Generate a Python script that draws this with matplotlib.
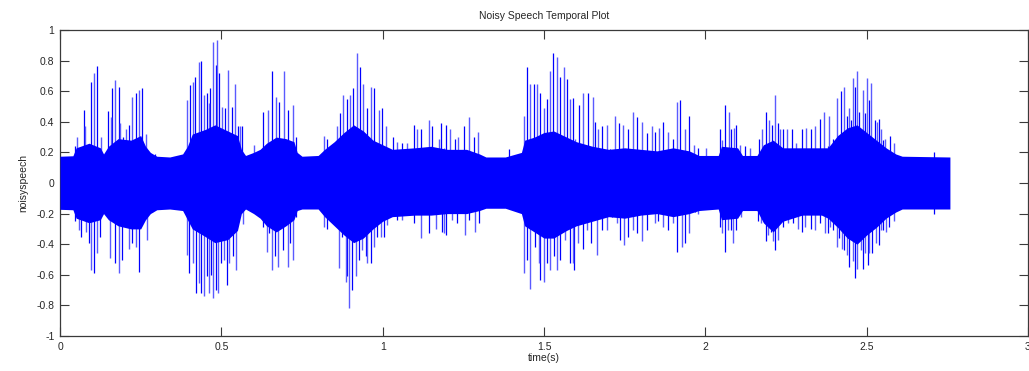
import matplotlib
matplotlib.use("Agg")
import matplotlib.pyplot as plt
from matplotlib.ticker import FuncFormatter

# dense body of the waveform (time, upper edge, lower edge)
body_t = [0.00, 0.04, 0.05, 0.09, 0.125, 0.135, 0.15, 0.18, 0.22, 0.25, 0.265, 0.28, 0.30,
          0.34, 0.38, 0.395, 0.41, 0.45, 0.48, 0.52, 0.55, 0.562, 0.575, 0.60, 0.62, 0.64,
          0.67, 0.70, 0.725, 0.735, 0.75, 0.80, 0.82, 0.85, 0.88, 0.91, 0.94, 0.97, 1.00,
          1.03, 1.10, 1.15, 1.20, 1.26, 1.30, 1.32, 1.38, 1.43, 1.44, 1.47, 1.50, 1.53,
          1.57, 1.60, 1.65, 1.70, 1.75, 1.80, 1.85, 1.90, 1.95, 1.98, 2.04, 2.05, 2.10,
          2.115, 2.16, 2.18, 2.21, 2.24, 2.30, 2.36, 2.38, 2.41, 2.44, 2.47, 2.50, 2.53,
          2.56, 2.59, 2.61, 2.758]
body_hi = [0.175, 0.178, 0.23, 0.26, 0.23, 0.19, 0.24, 0.29, 0.28, 0.31, 0.24, 0.20, 0.175,
           0.17, 0.19, 0.24, 0.32, 0.35, 0.38, 0.34, 0.31, 0.22, 0.18, 0.20, 0.22, 0.26,
           0.30, 0.29, 0.27, 0.20, 0.175, 0.18, 0.22, 0.27, 0.33, 0.38, 0.34, 0.28, 0.25,
           0.22, 0.23, 0.24, 0.22, 0.22, 0.19, 0.17, 0.17, 0.20, 0.28, 0.30, 0.33, 0.34,
           0.30, 0.27, 0.24, 0.22, 0.23, 0.22, 0.21, 0.23, 0.21, 0.18, 0.18, 0.24, 0.23,
           0.18, 0.18, 0.25, 0.28, 0.23, 0.23, 0.23, 0.23, 0.31, 0.36, 0.38, 0.33, 0.28,
           0.23, 0.19, 0.175, 0.17]
body_lo = [-0.172, -0.175, -0.23, -0.26, -0.24, -0.20, -0.24, -0.28, -0.30, -0.30, -0.24, -0.20, -0.175,
           -0.17, -0.18, -0.24, -0.30, -0.35, -0.39, -0.37, -0.31, -0.20, -0.17, -0.20, -0.23, -0.28,
           -0.32, -0.28, -0.24, -0.18, -0.17, -0.17, -0.22, -0.28, -0.34, -0.39, -0.36, -0.30, -0.25,
           -0.22, -0.21, -0.21, -0.20, -0.20, -0.18, -0.165, -0.165, -0.20, -0.28, -0.32, -0.36, -0.36,
           -0.31, -0.28, -0.25, -0.22, -0.23, -0.21, -0.20, -0.22, -0.20, -0.18, -0.17, -0.24, -0.23,
           -0.18, -0.18, -0.26, -0.32, -0.25, -0.21, -0.21, -0.23, -0.29, -0.36, -0.40, -0.34, -0.29,
           -0.23, -0.19, -0.17, -0.17]

# positive peaks
pos_t = [0.046, 0.054, 0.074, 0.079, 0.097, 0.105, 0.116, 0.126, 0.149, 0.157, 0.161, 0.169,
         0.182, 0.186, 0.194, 0.203, 0.215, 0.223, 0.234, 0.244, 0.254, 0.267, 0.293,
         0.395, 0.403, 0.411, 0.419, 0.430, 0.437, 0.447, 0.455, 0.461, 0.465, 0.473, 0.4835,
         0.4855, 0.494, 0.502, 0.512, 0.520, 0.533, 0.543, 0.551, 0.558, 0.564,
         0.602, 0.628, 0.644, 0.657, 0.669, 0.680, 0.695, 0.706, 0.721, 0.731,
         0.818, 0.8285, 0.857, 0.868, 0.878, 0.888, 0.899, 0.909, 0.919, 0.930, 0.940, 0.9525,
         0.963, 0.973, 0.989, 0.999, 1.009, 1.033, 1.045, 1.061, 1.076, 1.097, 1.107, 1.118,
         1.144, 1.154, 1.175, 1.182,
         1.189, 1.196, 1.210, 1.223, 1.2335, 1.251, 1.2665, 1.282, 1.295, 1.39, 1.437, 1.447,
         1.458, 1.468, 1.478, 1.489, 1.499, 1.509, 1.520, 1.527, 1.540, 1.551, 1.561, 1.571, 1.582,
         1.5885, 1.596, 1.6095, 1.622, 1.637, 1.651, 1.658, 1.668, 1.679, 1.694, 1.7045, 1.72,
         1.7335, 1.746, 1.761, 1.775, 1.787, 1.803, 1.818, 1.834, 1.844, 1.857, 1.870, 1.885,
         1.901, 1.911, 1.9215, 1.937, 1.950, 1.965, 1.978,
         2.003, 2.044, 2.052, 2.060, 2.072, 2.081, 2.089, 2.096, 2.106, 2.122, 2.137, 2.165,
         2.176, 2.189, 2.196, 2.207, 2.215, 2.225, 2.230, 2.241, 2.254, 2.270, 2.282, 2.300,
         2.313, 2.326, 2.341, 2.354, 2.368,
         2.379, 2.384, 2.397, 2.407, 2.420, 2.431, 2.438, 2.446, 2.451, 2.457, 2.465, 2.469,
         2.477, 2.488, 2.496, 2.501, 2.506, 2.513, 2.527, 2.531, 2.539, 2.544, 2.552, 2.558,
         2.573, 2.586, 2.710]
pos_v = [0.24, 0.30, 0.48, 0.37, 0.66, 0.72, 0.765, 0.30, 0.47, 0.43, 0.62, 0.67,
         0.625, 0.39, 0.30, 0.35, 0.38, 0.565, 0.586, 0.61, 0.62, 0.32, 0.19,
         0.54, 0.64, 0.66, 0.695, 0.79, 0.80, 0.575, 0.586, 0.52, 0.62, 0.924, 0.77,
         0.935, 0.72, 0.50, 0.49, 0.74, 0.50, 0.65, 0.37, 0.37, 0.37,
         0.25, 0.466, 0.477, 0.73, 0.56, 0.53, 0.73, 0.477, 0.51, 0.30,
         0.31, 0.29, 0.37, 0.455, 0.575, 0.55, 0.575, 0.62, 0.85, 0.76, 0.65, 0.49,
         0.63, 0.62, 0.477, 0.49, 0.37, 0.30, 0.27, 0.26, 0.26, 0.38, 0.35, 0.35,
         0.41, 0.37, 0.29, 0.39,
         0.23, 0.38, 0.35, 0.29, 0.30, 0.37, 0.43, 0.30, 0.335, 0.22, 0.44, 0.76,
         0.65, 0.65, 0.65, 0.586, 0.49, 0.55, 0.73, 0.85, 0.826, 0.695, 0.76, 0.68, 0.55,
         0.553, 0.29, 0.51, 0.586, 0.586, 0.565, 0.40, 0.35, 0.37, 0.38, 0.22, 0.44,
         0.39, 0.38, 0.35, 0.466, 0.43, 0.40, 0.325, 0.37, 0.335, 0.357, 0.40, 0.335,
         0.29, 0.53, 0.54, 0.35, 0.44, 0.25, 0.23,
         0.23, 0.35, 0.28, 0.51, 0.466, 0.35, 0.357, 0.38, 0.25, 0.24, 0.23, 0.29,
         0.35, 0.466, 0.41, 0.38, 0.575, 0.39, 0.35, 0.35, 0.35, 0.35, 0.26, 0.35,
         0.357, 0.35, 0.37, 0.42, 0.466,
         0.24, 0.44, 0.29, 0.553, 0.60, 0.63, 0.44, 0.49, 0.41, 0.684, 0.63, 0.73,
         0.466, 0.61, 0.455, 0.684, 0.54, 0.656, 0.41, 0.40, 0.42, 0.35, 0.28, 0.29,
         0.31, 0.26, 0.20]

# negative peaks
neg_t = [0.046, 0.058, 0.066, 0.081, 0.089, 0.095, 0.105, 0.116, 0.124, 0.155, 0.172, 0.182,
         0.192, 0.213, 0.223, 0.234, 0.244, 0.269, 0.285,
         0.395, 0.401, 0.413, 0.4215, 0.430, 0.436, 0.447, 0.455, 0.463, 0.468, 0.475, 0.4835,
         0.490, 0.499, 0.509, 0.5165, 0.525, 0.535, 0.5455, 0.554, 0.566,
         0.628, 0.6415, 0.649, 0.657, 0.667, 0.675, 0.690, 0.706, 0.713, 0.721, 0.731,
         0.818, 0.8285, 0.865, 0.875, 0.885, 0.8905, 0.896, 0.906, 0.916, 0.927, 0.937, 0.947,
         0.9525, 0.963, 0.973, 0.9835, 0.994, 1.004, 1.0145, 1.045, 1.061, 1.097, 1.118, 1.144,
         1.164, 1.185,
         1.189, 1.196, 1.215, 1.230, 1.254, 1.2665, 1.285, 1.2975, 1.437, 1.447, 1.458, 1.473,
         1.4835, 1.489, 1.499, 1.509, 1.520, 1.530, 1.540, 1.551, 1.566, 1.582,
         1.5885, 1.593, 1.606, 1.620, 1.632, 1.645, 1.663, 1.679, 1.694, 1.710, 1.725, 1.7355,
         1.748, 1.761, 1.777, 1.787, 1.803, 1.818, 1.844, 1.854, 1.870, 1.885, 1.901, 1.911,
         1.927, 1.937, 1.950, 1.968, 1.978,
         2.044, 2.052, 2.060, 2.070, 2.081, 2.087, 2.096, 2.1095, 2.163, 2.1735, 2.187, 2.194,
         2.2025, 2.210, 2.217, 2.225, 2.241, 2.256, 2.272, 2.287, 2.300, 2.310, 2.326, 2.339,
         2.354, 2.370,
         2.379, 2.386, 2.3946, 2.407, 2.415, 2.4235, 2.431, 2.438, 2.446, 2.457, 2.465, 2.469,
         2.477, 2.482, 2.490, 2.496, 2.503, 2.508, 2.5165, 2.529, 2.537, 2.544, 2.552, 2.560,
         2.570, 2.586, 2.710]
neg_v = [-0.25, -0.31, -0.35, -0.32, -0.39, -0.57, -0.59, -0.46, -0.35, -0.49, -0.525, -0.59,
         -0.50, -0.43, -0.39, -0.42, -0.58, -0.37, -0.19,
         -0.47, -0.59, -0.525, -0.72, -0.656, -0.72, -0.74, -0.61, -0.72, -0.60, -0.754, -0.70,
         -0.72, -0.525, -0.50, -0.667, -0.525, -0.48, -0.57, -0.21, -0.27,
         -0.29, -0.45, -0.33, -0.57, -0.48, -0.55, -0.44, -0.55, -0.39, -0.50, -0.22,
         -0.285, -0.30, -0.558, -0.35, -0.645, -0.61, -0.82, -0.70, -0.61, -0.50, -0.44, -0.48,
         -0.525, -0.525, -0.42, -0.35, -0.35, -0.35, -0.275, -0.24, -0.24, -0.26, -0.36, -0.33,
         -0.30, -0.32,
         -0.33, -0.34, -0.24, -0.26, -0.34, -0.24, -0.32, -0.26, -0.59, -0.50, -0.69, -0.42,
         -0.525, -0.634, -0.645, -0.525, -0.57, -0.48, -0.57, -0.50, -0.37, -0.525,
         -0.525, -0.57, -0.39, -0.43, -0.31, -0.39, -0.47, -0.31, -0.31, -0.22, -0.26, -0.37,
         -0.405, -0.35, -0.31, -0.33, -0.38, -0.31, -0.26, -0.25, -0.285, -0.31, -0.26, -0.45,
         -0.42, -0.39, -0.33, -0.19, -0.20,
         -0.285, -0.33, -0.45, -0.31, -0.31, -0.39, -0.31, -0.22, -0.25, -0.26, -0.38, -0.34,
         -0.32, -0.38, -0.44, -0.37, -0.285, -0.26, -0.26, -0.30, -0.32, -0.285, -0.30, -0.31,
         -0.26, -0.33,
         -0.33, -0.285, -0.31, -0.42, -0.36, -0.43, -0.44, -0.47, -0.55, -0.51, -0.623, -0.56,
         -0.37, -0.44, -0.56, -0.46, -0.536, -0.46, -0.46, -0.39, -0.405, -0.31, -0.31, -0.32,
         -0.285, -0.25, -0.20]

x_ticks = [0, 0.5, 1, 1.5, 2, 2.5, 3]
y_ticks = [-1, -0.8, -0.6, -0.4, -0.2, 0, 0.2, 0.4, 0.6, 0.8, 1]

plt.rcParams['font.family'] = ['Liberation Sans', 'DejaVu Sans']

fig = plt.figure(figsize=(10.29, 3.71), dpi=100)
ax = fig.add_axes([60 / 1029, 35 / 371, 968 / 1029, 306 / 371])

# spikes first, solid body drawn over them
ax.vlines(pos_t[::2], 0, pos_v[::2], colors='#0000ff', linewidth=0.9, zorder=2)
ax.vlines(pos_t[1::2], 0, pos_v[1::2], colors='#5a5aff', linewidth=1.0, zorder=2)
ax.vlines(neg_t[::2], 0, neg_v[::2], colors='#0000ff', linewidth=0.9, zorder=2)
ax.vlines(neg_t[1::2], 0, neg_v[1::2], colors='#5a5aff', linewidth=1.0, zorder=2)
ax.fill_between(body_t, body_lo, body_hi, color='#0000ff', linewidth=0, zorder=3)

ax.set_xlim(0, 3)
ax.set_ylim(-1, 1)
ax.set_xticks(x_ticks)
ax.set_yticks(y_ticks)
ax.xaxis.set_major_formatter(FuncFormatter(lambda v, p: '%g' % v))
ax.yaxis.set_major_formatter(FuncFormatter(lambda v, p: '%g' % v))
ax.tick_params(direction='in', length=6.5, width=0.8, color='#3a3a3a',
               top=True, right=True, labelsize=7.5, labelcolor='#262626', pad=4)
for s in ax.spines.values():
    s.set_color('#3a3a3a')
    s.set_linewidth(0.9)

ax.set_title('Noisy Speech Temporal Plot', fontsize=7.5, color='#262626', pad=8)
ax.set_xlabel('time(s)', fontsize=7.5, color='#262626', labelpad=1)
ax.set_ylabel('noisyspeech', fontsize=7.5, color='#262626', labelpad=6)

fig.savefig('out.png', dpi=100)
